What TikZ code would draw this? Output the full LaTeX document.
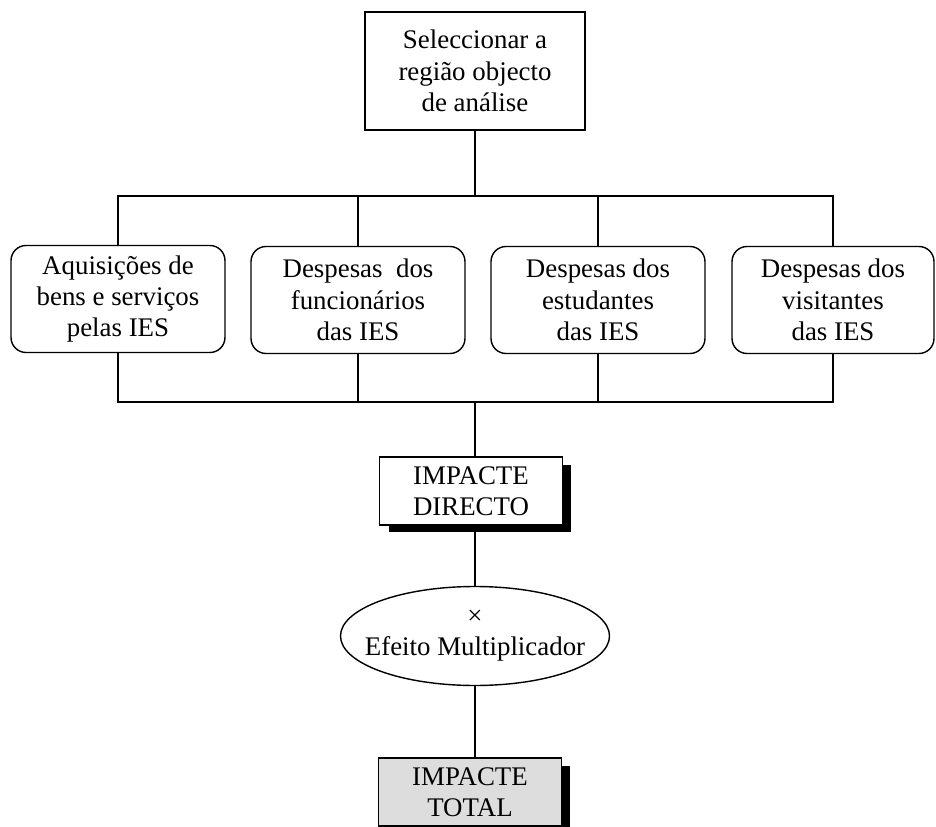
\documentclass[tikz,border=0pt]{standalone}
\usepackage{fontspec}
\setmainfont{Liberation Serif}
\usetikzlibrary{shapes.geometric,shadows}
\definecolor{totalgray}{RGB}{221,221,221}

\begin{document}
\begin{tikzpicture}[x=0.02cm,y=-0.02cm,line width=0.8pt,
		box/.style={draw,rectangle,align=center,inner sep=0pt},
		rbox/.style={box,rounded corners=0.3cm,minimum width=4.28cm,minimum height=2.14cm},
		impact/.style={box,minimum width=3.66cm,minimum height=1.36cm,
			drop shadow={shadow xshift=0.18cm,shadow yshift=-0.15cm,opacity=1,fill=black}}]
	\useasboundingbox (0,0) rectangle (936,827);
	
	\begin{scope}[every node/.style={font=\fontsize{15.3}{17.8}\selectfont}]
		\node[box,minimum width=4.4cm,minimum height=2.36cm] (sel) at (475,71) {Seleccionar a\\região objecto\\de análise};
		
		\node[rbox] (b1) at (118,299) {Aquisições de\\bens e serviços\\pelas IES};
		\node[rbox] (b2) at (358,300) {Despesas\ \ dos\\funcionários\\das IES};
		\node[rbox] (b3) at (598,300) {Despesas dos\\estudantes\\das IES};
		\node[rbox,minimum width=4.04cm] (b4) at (833,300) {Despesas dos\\visitantes\\das IES};
		
		\node[impact,fill=white] (dir) at (471,491) {IMPACTE\\DIRECTO};
		\node[draw,ellipse,align=center,inner xsep=-0.3cm,inner ysep=0pt,minimum width=5.34cm,minimum height=1.98cm] (mult) at (475,636) {×\\Efeito Multiplicador};
		\node[impact,fill=totalgray] (tot) at (470,792) {IMPACTE\\TOTAL};
	\end{scope}
	
	\begin{scope}
		\coordinate (busT) at (475,196);
		\coordinate (busB) at (475,402);
		\draw (sel) -- (busT);
		\draw (b1.north) |- (busT) -| (b4.north);
		\draw (b2.north) -- (b2.north |- busT);
		\draw (b3.north) -- (b3.north |- busT);
		\draw (b1.south) |- (busB) -| (b4.south);
		\draw (b2.south) -- (b2.south |- busB);
		\draw (b3.south) -- (b3.south |- busB);
		\draw (busB) -- (busB |- dir.north);
		\draw (mult.north) -- (mult.north |- dir.south);
		\draw (mult.south) -- (mult.south |- tot.north);
	\end{scope}
\end{tikzpicture}
\end{document}
